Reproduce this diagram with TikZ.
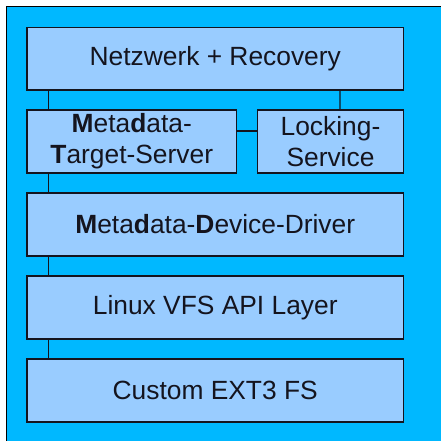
\documentclass[tikz,border=0pt]{standalone}
\usepackage{fontspec}
\setmainfont{Liberation Sans}
\usepackage{tikz}
\usetikzlibrary{positioning}
\definecolor{hintergrund}{RGB}{0,184,255}
\definecolor{schichtfarbe}{RGB}{153,204,255}
\definecolor{linie}{RGB}{20,20,30}
\tikzset{
    schicht/.style={draw=linie,fill=schichtfarbe,line width=0.7pt,inner sep=0pt,outer sep=0pt,
        minimum height=1.26cm,align=center,text=linie,font=\fontsize{15}{17.6}\selectfont},
    breit/.style={schicht,minimum width=7.53cm},
    verbindung/.style={draw=linie,line width=0.7pt},
    rahmen/.style={draw=black,line width=1pt},
}
\begin{document}
\begin{tikzpicture}
\useasboundingbox (0,0) rectangle (8.82,-8.82);
\fill[hintergrund] (0.13,-0.13) rectangle (8.82,-8.82);
\draw[rahmen] (0.13,-8.82) -- (0.13,-0.13) -- (8.82,-0.13);

\node[breit,minimum height=1.25cm,anchor=north west]          (netz) at (0.54,-0.55) {Netzwerk + Recovery};
\node[schicht,minimum width=4.19cm,below=0.4cm of netz.south west,anchor=north west] (mts) {\textbf{M}eta\textbf{d}ata-\\\textbf{T}arget-Server};
\node[schicht,minimum width=2.92cm,right=0.42cm of mts]       (lock) {Locking-\\Service};
\node[breit,below=0.4cm of mts.south west,anchor=north west]  (mdd) {\textbf{M}eta\textbf{d}ata-\textbf{D}evice-Driver};
\node[breit,below=0.4cm of mdd.south west,anchor=north west]  (vfs) {Linux VFS API Layer};
\node[breit,below=0.4cm of vfs.south west,anchor=north west]  (ext) {Custom EXT3 FS};

\draw[verbindung] ([xshift=0.43cm]netz.south west)--([xshift=0.43cm]mts.north west);
\draw[verbindung] ([xshift=-1.27cm]netz.south east)--([xshift=-1.27cm]lock.north east);
\draw[verbindung] ([yshift=0.21cm]mts.east)--([yshift=0.21cm]lock.west);
\draw[verbindung] ([xshift=0.43cm]mts.south west)--([xshift=0.43cm]mdd.north west);
\draw[verbindung] ([xshift=0.43cm]mdd.south west)--([xshift=0.43cm]vfs.north west);
\draw[verbindung] ([xshift=0.43cm]vfs.south west)--([xshift=0.43cm]ext.north west);
\end{tikzpicture}
\end{document}
